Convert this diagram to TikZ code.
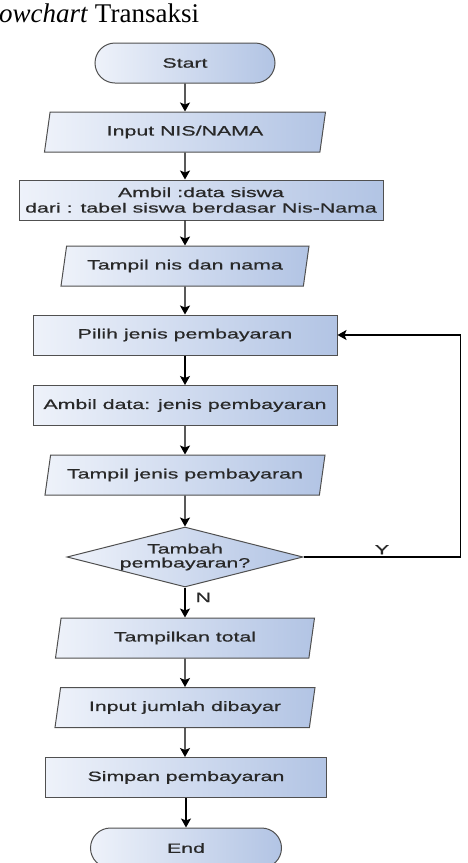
\documentclass[tikz,border=0pt]{standalone}
\usepackage{fontspec}
\usepackage{tikz}
\usetikzlibrary{arrows.meta,shapes.geometric,shapes.misc}
\newfontfamily\boxfont[FakeStretch=1.58,FakeBold=0.6]{Liberation Sans}
\newfontfamily\titlefont{Liberation Serif}
\definecolor{clrL}{RGB}{238,242,250}
\definecolor{clrR}{RGB}{178,196,228}
\definecolor{clrD}{RGB}{80,80,80}
\definecolor{clrT}{RGB}{40,40,40}
\tikzset{
  base/.style={draw=clrD,line width=1pt,left color=clrL,right color=clrR,
    font=\boxfont\fontsize{13.5}{15.5}\selectfont,text=clrT,align=center,
    inner sep=0pt},
  terminal/.style={base,rounded rectangle,minimum width=180pt,minimum height=40pt},
  process/.style={base,rectangle,minimum height=40pt},
  inout/.style={base,trapezium,trapezium left angle=66,trapezium right angle=114,
    trapezium stretches body,minimum height=40pt},
  decision/.style={base,diamond,aspect=3.93,minimum width=236pt,minimum height=60pt,
    font=\boxfont\fontsize{13.5}{14}\selectfont},
  arrow/.style={-{Stealth[length=9pt,width=10pt,inset=2pt]},line width=1.3pt,color=black},
  edge/.style={font=\boxfont\fontsize{13.5}{14}\selectfont,text=clrT,inner sep=2pt}
}
\begin{document}
\begin{tikzpicture}[x=1pt,y=-1pt]
  \useasboundingbox (0,0) rectangle (467,863);

  \node[font=\titlefont\fontsize{27}{30}\selectfont,anchor=base west,inner sep=0pt]
    (title) at (-1,22) {\textit{owchart} Transaksi};

  \node[terminal] (start) at (185,63) {Start};

  \node[inout,minimum width=281pt] (inputnis) at (185,132) {Input NIS/NAMA};

  \node[process,minimum width=364pt] (ambilsiswa) at (201,200)
    {Ambil :data siswa\\dari : tabel siswa berdasar Nis-Nama};

  \node[inout,minimum width=248pt] (tampilnis) at (185,266) {Tampil nis dan nama};

  \node[process,minimum width=304pt] (pilihjenis) at (185,335) {Pilih jenis pembayaran};

  \node[process,minimum width=304pt] (ambiljenis) at (185,405.5)
    {Ambil data: jenis pembayaran};

  \node[inout,minimum width=280pt] (tampiljenis) at (185,475) {Tampil jenis pembayaran};

  \node[decision] (tambah) at (185,557) {Tambah\\pembayaran?};

  \node[inout,minimum width=259pt] (tampiltotal) at (185,638) {Tampilkan total};

  \node[inout,minimum width=260pt] (inputjumlah) at (185,707.5) {Input jumlah dibayar};

  \node[process,minimum width=281pt] (simpan) at (186,777.5) {Simpan pembayaran};

  \node[terminal,minimum width=191pt] (finish) at (186,848) {End};

  \draw[arrow] (start) -- (inputnis);
  \draw[arrow] (inputnis) -- (inputnis |- ambilsiswa.north);
  \draw[arrow] (ambilsiswa.south -| tampilnis) -- (tampilnis);
  \draw[arrow] (tampilnis) -- (pilihjenis);
  \draw[arrow] (pilihjenis) -- (ambiljenis);
  \draw[arrow] (ambiljenis) -- (tampiljenis);
  \draw[arrow] (tampiljenis) -- (tambah);

  \draw[arrow] (tambah)
    -- node[edge,right=8pt,pos=0.33]{N} (tampiltotal);

  \draw[arrow] (tambah.east)
    -- node[edge,above,pos=0.5]{Y} ++(157,0) |- (pilihjenis.east);

  \draw[arrow] (tampiltotal) -- (inputjumlah);
  \draw[arrow] (inputjumlah) -- (inputjumlah |- simpan.north);
  \draw[arrow] (simpan) -- (simpan |- finish.north);
\end{tikzpicture}
\end{document}
